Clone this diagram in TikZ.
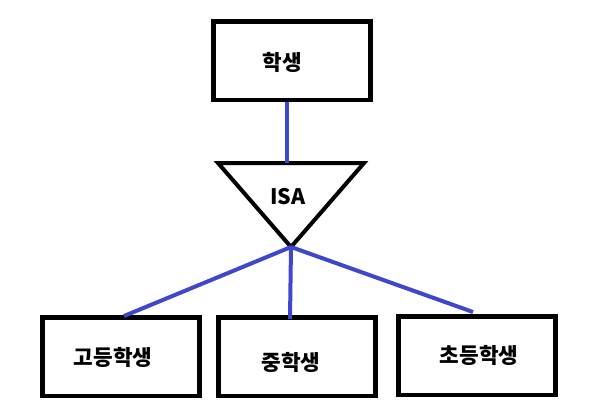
\documentclass[tikz,border=0pt]{standalone}
\usepackage{fontspec}
\newfontfamily\kr{Noto Sans CJK KR}
\definecolor{paintblue}{RGB}{63,72,204}
\tikzset{
  ent/.style={draw=black, line width=3.5pt, minimum width=118pt, minimum height=59pt, inner sep=0pt},
  lbl/.style={font=\kr\bfseries\fontsize{16pt}{19pt}\selectfont, inner sep=0pt},
  isaline/.style={draw=black, line width=3pt, line join=miter},
  link/.style={draw=paintblue, line width=3pt}
}
\begin{document}
\begin{tikzpicture}[x=0.75pt,y=-0.75pt]
\useasboundingbox[fill=white] (0,0) rectangle (600,415);
% boxes
\node[ent] (top) at (292,60.7) {};
\node[ent] (high) at (121,356.5) {};
\node[ent] (mid) at (297,356.5) {};
\node[ent] (elem) at (477,355.5) {};
% labels
\node[lbl] (ttop) at (282,62) {학생};
\node[lbl] (thigh) at (113,357) {고등학생};
\node[lbl] (tmid) at (291,362) {중학생};
\node[lbl] (telem) at (479,355) {초등학생};
% ISA triangle
\coordinate (tl) at (218,163);
\coordinate (tr) at (364,163);
\coordinate (apex) at (291,247);
\draw[isaline] (tl) -- (tr) -- (apex) -- cycle;
\node[lbl] (isa) at (288,197) {ISA};
% connectors
\coordinate (topjoin) at (287,163);
\coordinate (hend) at (124,316);
\coordinate (mend) at (290,319);
\coordinate (eend) at (473,312);
\draw[link] (topjoin |- top.south) -- (topjoin);
\draw[link] (apex) -- (hend);
\draw[link] (apex) -- (mend);
\draw[link] (apex) -- (eend);
\end{tikzpicture}
\end{document}
